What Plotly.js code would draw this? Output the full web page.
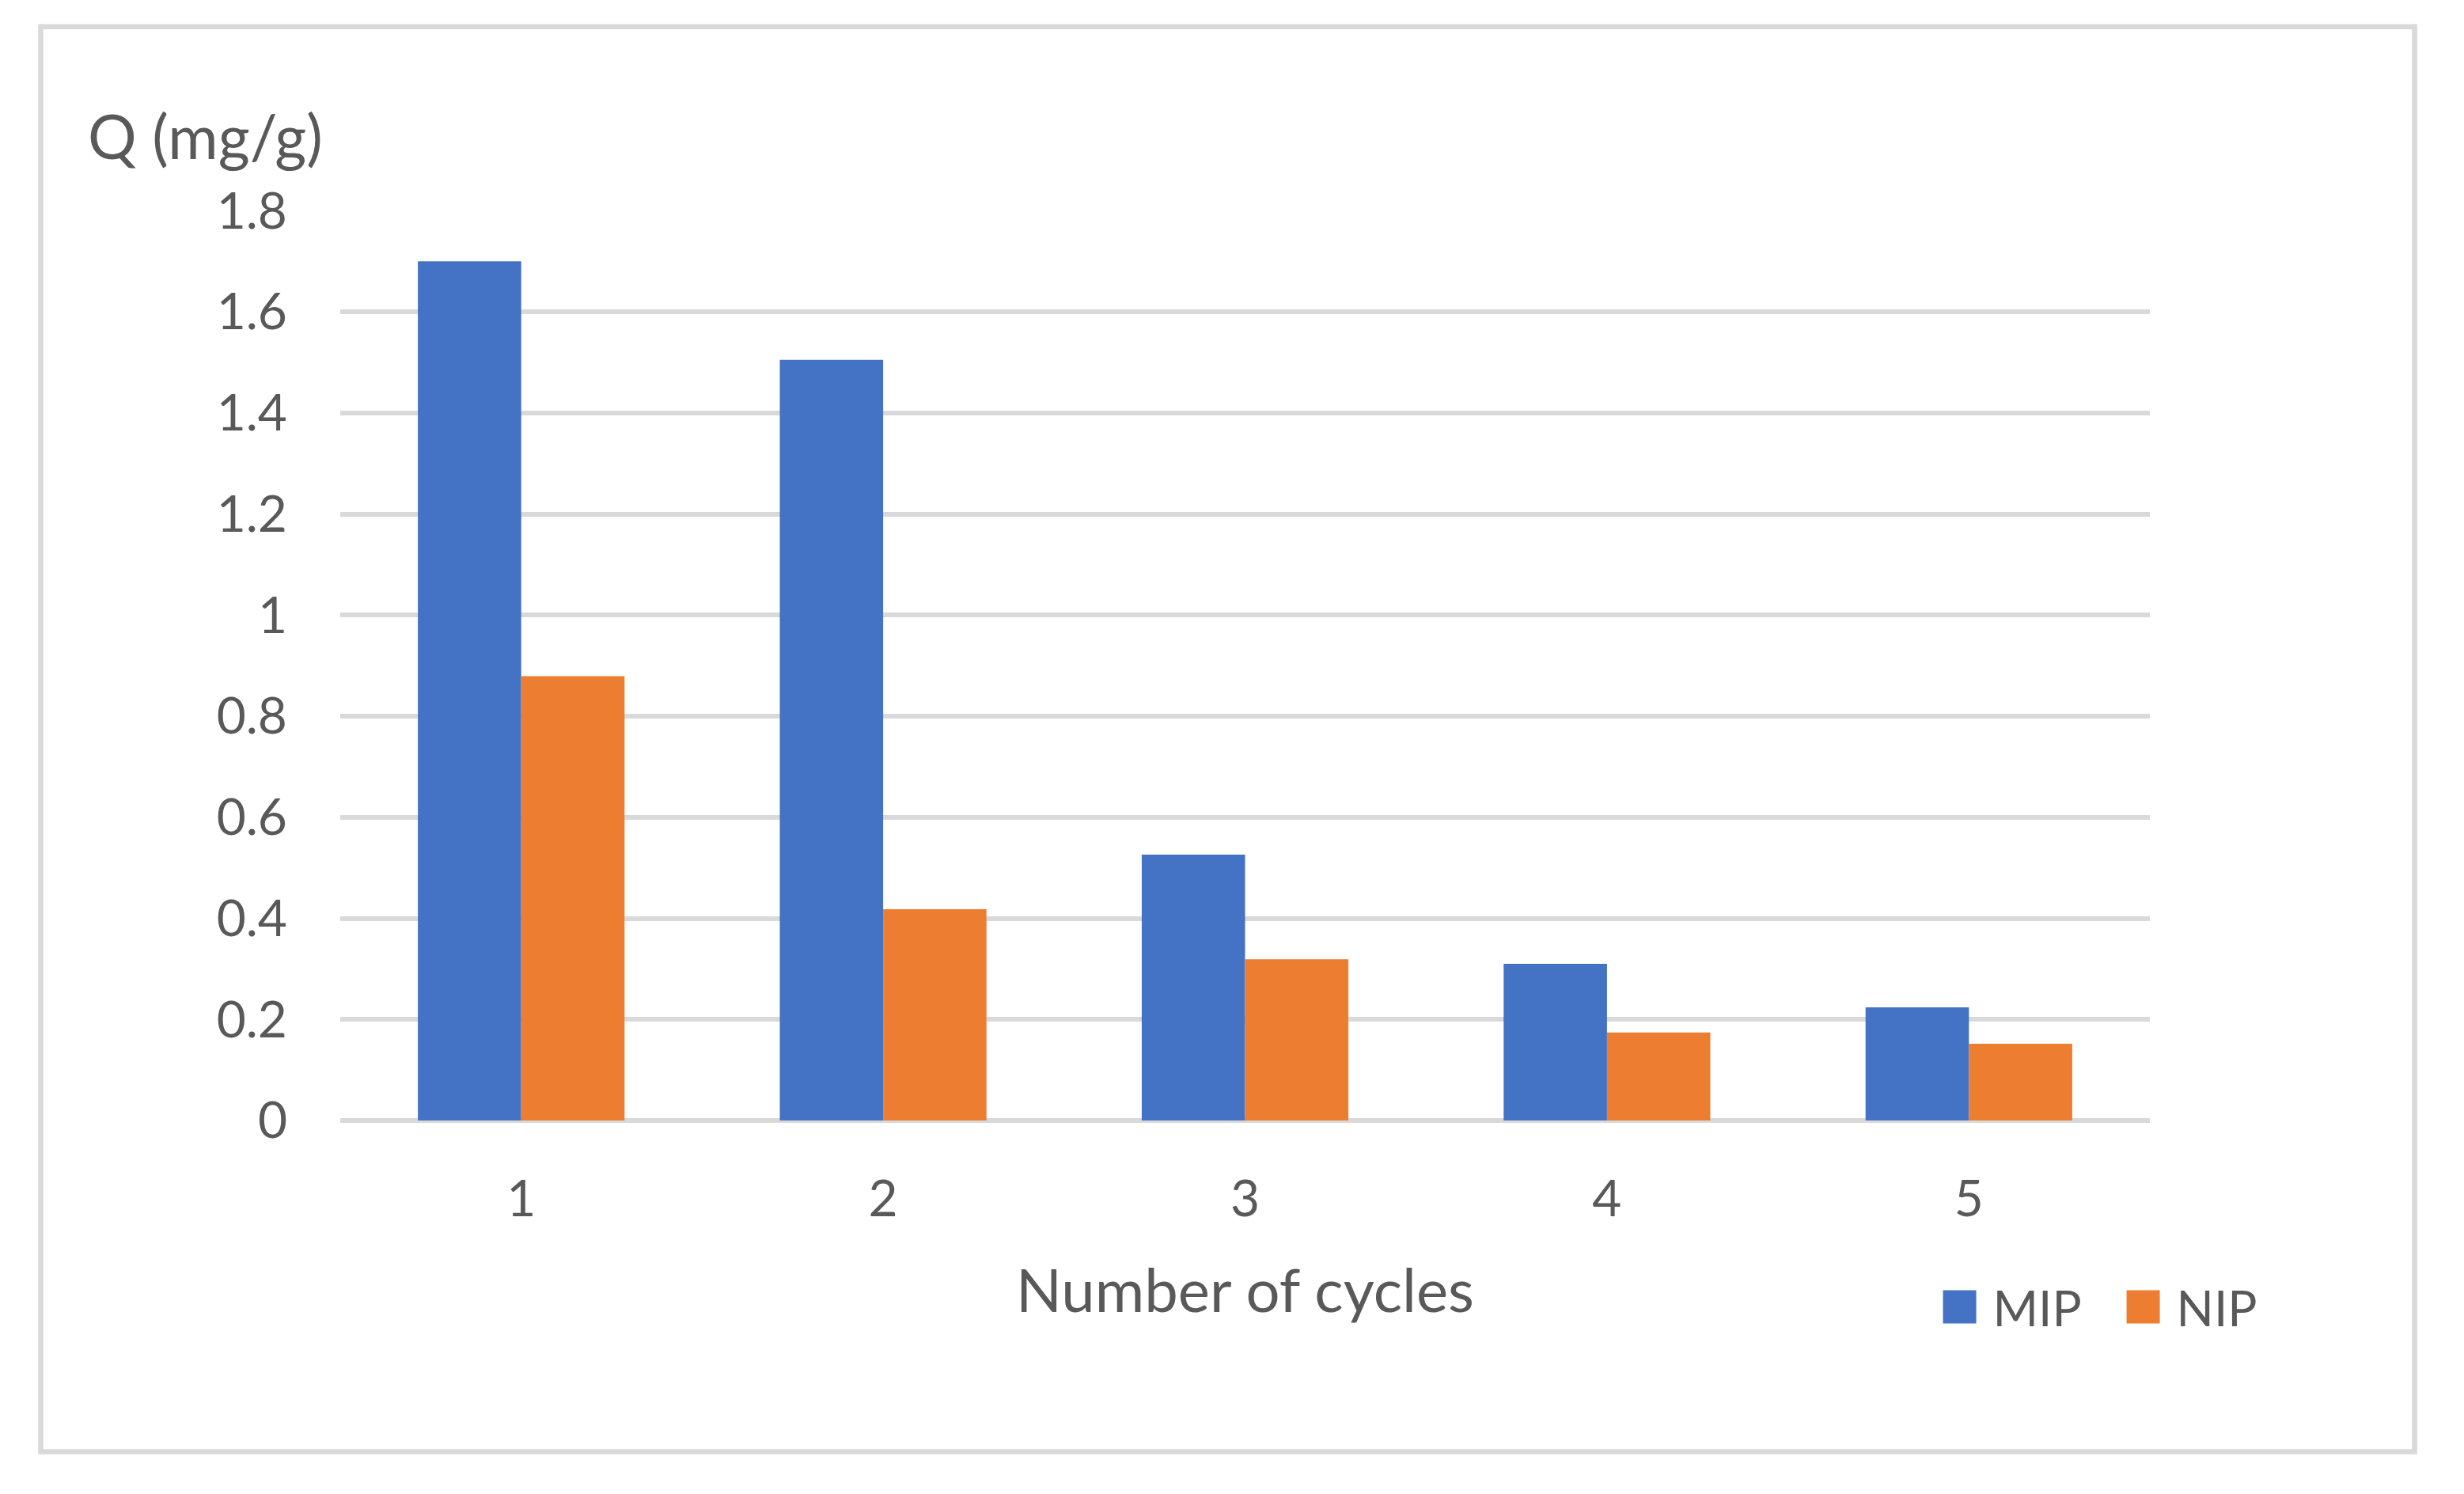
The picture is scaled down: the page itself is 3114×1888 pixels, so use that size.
<!DOCTYPE html>
<html>
<head>
<meta charset="utf-8">
<script src="https://cdn.plot.ly/plotly-3.0.1.min.js"></script>
<style>
  html, body { margin: 0; padding: 0; background: #fff; }
  #chart { width: 3114px; height: 1888px; }
</style>
</head>
<body>
<div id="chart"></div>
<script>
var cycles = ['1', '2', '3', '4', '5'];
var mipValues = [1.700, 1.505, 0.526, 0.310, 0.224];
var nipValues = [0.879, 0.418, 0.319, 0.174, 0.152];
var yTicks = [0, 0.2, 0.4, 0.6, 0.8, 1, 1.2, 1.4, 1.6, 1.8];

var textColor = '#595959';
var gridColor = '#d9d9d9';

var mip = {
  x: cycles,
  y: mipValues,
  name: 'MIP',
  type: 'bar',
  marker: { color: '#4472C4' }
};

var nip = {
  x: cycles,
  y: nipValues,
  name: 'NIP',
  type: 'bar',
  marker: { color: '#ED7D31' }
};

var layout = {
  width: 3114,
  height: 1888,
  margin: { l: 430, r: 397, t: 266, b: 472 },
  paper_bgcolor: '#ffffff',
  plot_bgcolor: '#ffffff',
  font: { family: 'Lato, "Open Sans", sans-serif', color: textColor, size: 62 },
  barmode: 'group',
  bargap: 0.429,
  bargroupgap: 0,
  showlegend: true,
  legend: {
    orientation: 'h',
    x: 0.8765,
    xref: 'paper',
    xanchor: 'left',
    y: -0.205,
    yanchor: 'middle',
    font: { size: 62, color: textColor },
    itemwidth: 74,
    entrywidth: 143,
    bgcolor: 'rgba(0,0,0,0)'
  },
  xaxis: {
    type: 'category',
    showgrid: false,
    showline: false,
    zeroline: false,
    ticks: '',
    ticklabelstandoff: 56,
    tickfont: { size: 64, color: textColor },
    title: {
      text: 'Number of cycles',
      font: { size: 76, color: textColor },
      standoff: 54
    }
  },
  yaxis: {
    // a hair above 1.8 so the top gridline is still drawn
    range: [0, 1.8005],
    tickvals: yTicks,
    ticktext: yTicks.map(String),
    showgrid: true,
    gridcolor: gridColor,
    gridwidth: 6,
    zeroline: true,
    zerolinecolor: gridColor,
    zerolinewidth: 6,
    showline: false,
    ticks: '',
    ticklabelstandoff: 66,
    tickfont: { size: 64, color: textColor }
  },
  annotations: [{
    text: 'Q (mg/g)',
    xref: 'paper',
    yref: 'paper',
    x: -0.1405,
    xanchor: 'left',
    y: 1.0825,
    yanchor: 'middle',
    showarrow: false,
    font: { size: 77, color: textColor }
  }],
  shapes: [{
    type: 'rect',
    xref: 'paper',
    yref: 'paper',
    x0: -0.1655,
    x1: 1.1463,
    y0: -0.3639,
    y1: 1.2020,
    line: { color: gridColor, width: 6.5 },
    layer: 'below'
  }]
};

Plotly.newPlot('chart', [mip, nip], layout, { displayModeBar: false, staticPlot: true }).then(function () {
  // Excel style legend keys are much bigger than plotly's fixed 12px squares
  document.querySelectorAll('#chart .legend .legendpoints path').forEach(function (p) {
    var t = p.getAttribute('transform') || '';
    p.setAttribute('transform', t + ' scale(3.5)');
  });
});
</script>
</body>
</html>
